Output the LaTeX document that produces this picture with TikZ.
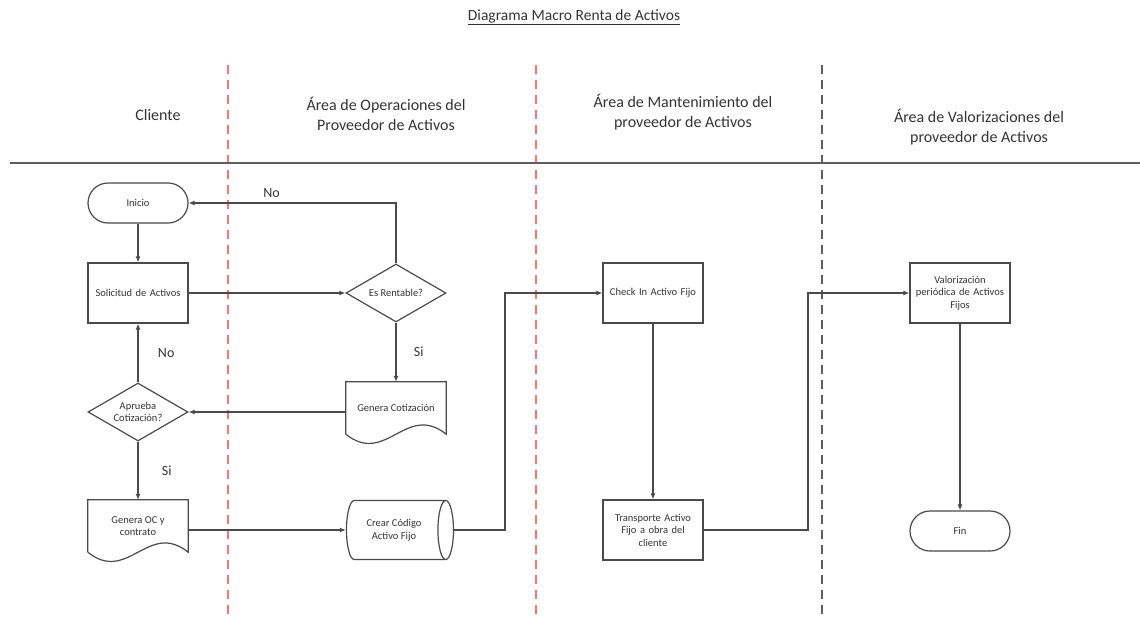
\documentclass[tikz,border=0pt]{standalone}
\usepackage{fontspec}
\setmainfont{Carlito}
\usetikzlibrary{shapes.geometric,arrows.meta}

\definecolor{linegray}{HTML}{4A4A4A}
\definecolor{textgray}{HTML}{333333}
\definecolor{lanered}{HTML}{FF7373}
\definecolor{lanegray}{HTML}{5E5E5E}

\begin{document}
\begin{tikzpicture}[x=1pt, y=-1pt,
    every node/.style={text=textgray, font=\fontsize{10.5}{12.5}\selectfont},
    box line/.style={draw=linegray, line width=1.2pt},
    process node/.style={box line, rectangle, minimum width=100pt, minimum height=60pt, text width=96pt, align=center, inner sep=1pt},
    terminal node/.style={box line, rectangle, rounded corners=20pt, minimum width=100pt, minimum height=40pt},
    decision node/.style={box line, diamond, aspect=1.7, minimum width=100pt, minimum height=58pt, inner sep=0pt, align=center},
    doc node/.style={rectangle, minimum width=100pt, minimum height=52pt, align=center},
    store node/.style={box line, cylinder, shape aspect=0.55, minimum width=59pt, minimum height=107pt, align=center},
    lane title/.style={font=\fontsize{16}{20}\selectfont, align=center},
    answer/.style={font=\fontsize{14}{16}\selectfont},
    flow/.style={draw=linegray, line width=1.3pt, -{Latex[length=6pt,width=5pt]}}]

  \useasboundingbox (0,0) rectangle (1140,616);

  \node[font=\fontsize{15.5}{19}\selectfont] (titulo) at (574,17) {\underline{Diagrama Macro Renta de Activos}};

  \draw[lanered, line width=1.5pt, dash pattern=on 9pt off 6pt] (228,65) -- (228,616);
  \draw[lanered, line width=1.5pt, dash pattern=on 9pt off 6pt] (536,65) -- (536,616);
  \draw[lanegray, line width=1.5pt, dash pattern=on 9pt off 6pt] (822,65) -- (822,616);
  \draw[lanegray, line width=2pt] (10,163) -- (1140,163);

  \node[lane title] (cliente) at (158,115) {Cliente};
  \node[lane title] (operaciones) at (386,114) {Área de Operaciones del\\Proveedor de Activos};
  \node[lane title] (mantenimiento) at (683,112) {Área de Mantenimiento del\\proveedor de Activos};
  \node[lane title] (valorizaciones) at (979,127) {Área de Valorizaciones del\\proveedor de Activos};

  \node[terminal node] (inicio) at (138,203) {Inicio};
  \node[process node] (solicitud) at (138,293) {Solicitud de Activos};
  \node[decision node] (aprueba) at (138,412) {Aprueba\\Cotización?};
  \node[doc node] (contrato) at (138,526) {Genera OC y\\contrato};
  \node[decision node] (rentable) at (396,293) {Es Rentable?};
  \node[doc node] (cotizacion) at (396,408) {Genera Cotización};
  \node[store node] (codigo) at (394,530) {Crear Código\\Activo Fijo};
  \node[process node] (checkin) at (653,293) {Check In Activo Fijo};
  \node[process node] (transporte) at (653,530) {Transporte Activo\\Fijo a obra del\\cliente};
  \node[process node] (valorizacion) at (960,293) {Valorización\\periódica de Activos\\Fijos};
  \node[terminal node] (fin) at (960,531) {Fin};

  \draw[box line] (contrato.south west) -- (contrato.north west) -- (contrato.north east) -- (contrato.south east) .. controls +(-40,-32) and +(40,32) .. (contrato.south west);
  \draw[box line] (cotizacion.south west) -- (cotizacion.north west) -- (cotizacion.north east) -- (cotizacion.south east) .. controls +(-40,-32) and +(40,32) .. (cotizacion.south west);

  \coordinate (paso1) at (505,400);
  \coordinate (paso2) at (808,400);

  \draw[flow] (inicio) -- (solicitud);
  \draw[flow] (solicitud) -- (rentable);
  \draw[flow] (rentable.north) |- (inicio.east) node[answer, pos=0.8, above=1pt] {No};
  \draw[flow] (rentable) -- (cotizacion) node[answer, midway, right=14pt] {Si};
  \draw[flow] (aprueba.east -| cotizacion.west) -- (aprueba.east);
  \draw[flow] (aprueba) -- (solicitud) node[answer, midway, right=16pt] {No};
  \draw[flow] (aprueba) -- (contrato) node[answer, midway, right=20pt] {Si};
  \draw[flow] (codigo.west -| contrato.east) -- (codigo.west);
  \draw[flow] (codigo.east) -| (paso1) |- (checkin.west);
  \draw[flow] (checkin) -- (transporte);
  \draw[flow] (transporte.east) -| (paso2) |- (valorizacion.west);
  \draw[flow] (valorizacion) -- (fin);

\end{tikzpicture}
\end{document}
